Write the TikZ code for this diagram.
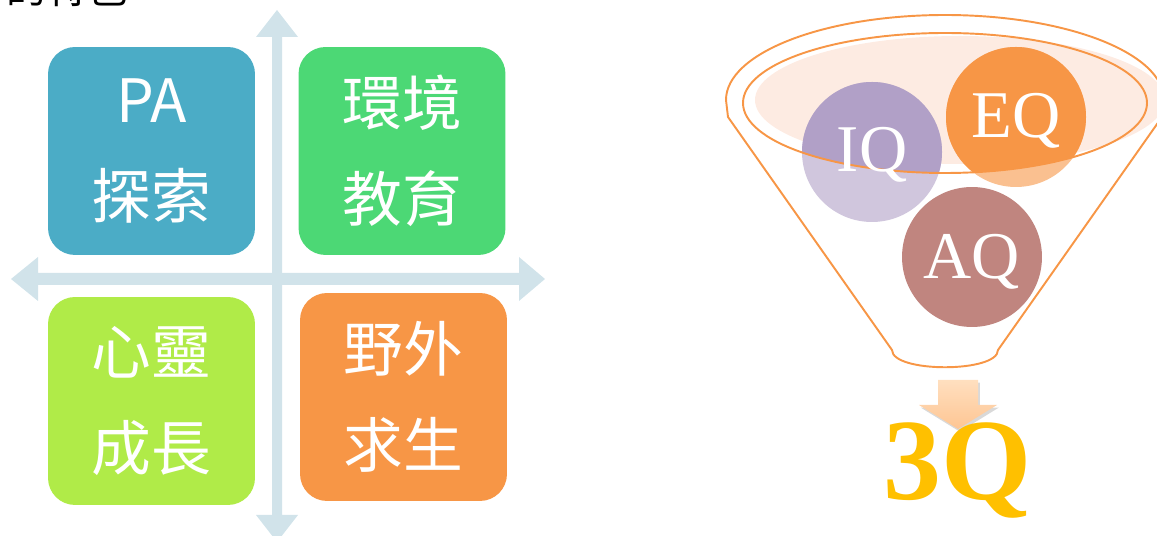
\documentclass[tikz,border=0pt]{standalone}
\usepackage{fontspec}
\usetikzlibrary{shadows}
\newfontfamily\cjk{Noto Sans CJK TC}
\newfontfamily\qfont{Liberation Serif}

\definecolor{qblue}{HTML}{4BACC6}
\definecolor{qgreen}{HTML}{4CD875}
\definecolor{qlime}{HTML}{B0EB48}
\definecolor{qorange}{HTML}{F79646}
\definecolor{axisblue}{HTML}{D1E3EA}
\definecolor{iqpurple}{HTML}{B1A0C7}
\definecolor{aqrose}{HTML}{C0857F}
\definecolor{peach}{HTML}{FDEBE2}
\definecolor{gold}{HTML}{FFC000}

\tikzset{
  quad/.style={rounded corners=0.54cm, minimum width=4.14cm, minimum height=4.16cm,
    inner sep=0pt, text=white, align=center, font=\cjk\fontsize{34}{55}\selectfont},
  ball/.style={circle, minimum size=2.8cm, inner sep=0pt, text=white,
    text height=25pt, text depth=0pt, font=\qfont\fontsize{38}{40}\selectfont},
  rim/.style={draw=qorange, line width=1.1pt}
}

\begin{document}
\begin{tikzpicture}[x=0.02cm, y=-0.02cm]
  \useasboundingbox (0,0) rectangle (1157,536);
  \clip (0,0) rectangle (1157,536);

  % heading, cut at the top
  \node[anchor=base west, inner sep=0pt, font=\cjk\fontsize{23}{25}\selectfont] (head) at (6,4) {的特色};

  % axes
  \fill[axisblue] (11,279) -- (38,257) -- (38,273) -- (519,273) -- (519,257) -- (545,279)
    -- (519,301) -- (519,285) -- (38,285) -- (38,301) -- cycle;
  \fill[axisblue] (277,10) -- (298,37) -- (282,37) -- (282,515) -- (298,515) -- (277,542)
    -- (256,515) -- (272,515) -- (272,37) -- (256,37) -- cycle;

  % the four quarters
  \node[quad, fill=qblue] (pa) at (151.5,151) {PA\\探索};
  \node[quad, fill=qgreen] (env) at (402,151) {環境\\教育};
  \node[quad, fill=qlime] (mind) at (151.5,401) {心靈\\成長};
  \node[quad, fill=qorange] (wild) at (403.5,397) {野外\\求生};

  % funnel
  \fill[peach] (960,100) ellipse [x radius=205, y radius=64];
  \draw[rim] (728,117) -- (892,350) .. controls (892,373) and (998,373) .. (998,350)
    -- (1162,117) -- (1164,100) arc [start angle=0, end angle=-180, x radius=219, y radius=85] -- cycle;
  \fill[iqpurple, opacity=0.6] (872,152) circle (70);
  \fill[qorange, opacity=0.6] (1016,117) circle (70);
  \begin{scope}
    \clip (945,103) ellipse [x radius=202, y radius=70];
    \fill[iqpurple] (872,152) circle (70);
    \fill[qorange] (1016,117) circle (70);
  \end{scope}
  \draw[rim] (945,103) ellipse [x radius=202, y radius=70];
  \node[ball] (iq) at (872,150) {IQ};
  \node[ball] (eq) at (1016,116) {EQ};
  \node[ball, fill=aqrose] (aq) at (972,257) {AQ};

  % result
  \shade[top color=orange!25!white, bottom color=orange!35!peach,
    drop shadow={shadow xshift=1pt, shadow yshift=-1.5pt, opacity=0.3}]
    (938,380) -- (978,380) -- (978,405) -- (997,405) -- (958,429) -- (919,405) -- (938,405) -- cycle;
  \node[anchor=base, text=gold, inner sep=0pt, font=\qfont\bfseries\fontsize{66}{66}\selectfont] (q3) at (958,500) {3Q};
\end{tikzpicture}
\end{document}
